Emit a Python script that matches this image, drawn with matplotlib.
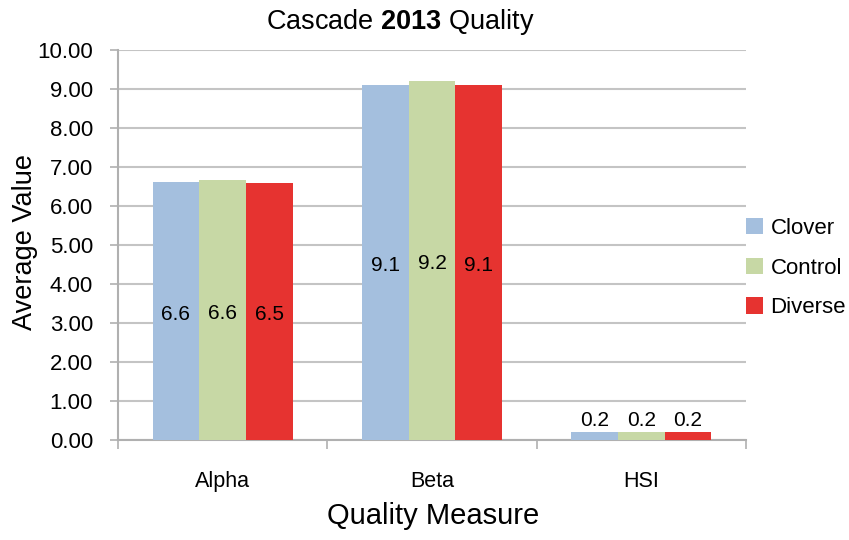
import numpy as np
import matplotlib.pyplot as plt

# chart data
categories = ["Alpha", "Beta", "HSI"]
series = ["Clover", "Control", "Diverse"]
clover = [6.62, 9.10, 0.21]
control = [6.67, 9.20, 0.21]
diverse = [6.58, 9.10, 0.21]
clover_labels = ["6.6", "9.1", "0.2"]
control_labels = ["6.6", "9.2", "0.2"]
diverse_labels = ["6.5", "9.1", "0.2"]
colors = ["#a4bfde", "#c7d8a5", "#e63330"]

plt.rcParams['font.family'] = ['Liberation Sans', 'DejaVu Sans']
plt.rcParams['mathtext.fontset'] = 'custom'
plt.rcParams['mathtext.rm'] = 'Liberation Sans'
plt.rcParams['mathtext.bf'] = 'Liberation Sans:bold'

fig = plt.figure(figsize=(8.49, 5.40), dpi=100)
ax = fig.add_axes([118 / 849, 1 - 440 / 540, (746 - 118) / 849, 390 / 540])

x = np.arange(len(categories))
width = 0.223
values = [clover, control, diverse]
labels = [clover_labels, control_labels, diverse_labels]

for i, (vals, labs) in enumerate(zip(values, labels)):
    pos = x + (i - 1) * width
    ax.bar(pos, vals, width, color=colors[i], label=series[i], zorder=3)
    for p, v, t in zip(pos, vals, labs):
        if v > 1:
            # excel puts these a touch below the bar middle
            ax.text(p, v / 2 - 0.08, t, ha="center", va="center", fontsize=15, zorder=4)
        else:
            ax.text(p, v + 0.05, t, ha="center", va="bottom", fontsize=15, zorder=4)

ax.set_xlim(-0.5, 2.5)
ax.set_ylim(0, 10)
ax.set_yticks(np.arange(0, 11, 1))
ax.set_yticklabels([f"{v:.2f}" for v in np.arange(0, 11, 1)], fontsize=16)
ax.yaxis.grid(True, color="#c4c4c4", lw=1.5, zorder=0)

ax.set_xticks(x)
ax.set_xticklabels(categories, fontsize=15.5)
ax.set_xticks([-0.5, 0.5, 1.5, 2.5], minor=True)
ax.tick_params(axis="x", which="major", length=0, pad=22)
ax.tick_params(axis="x", which="minor", length=6.5, color="#b0b0b0", width=1.2, direction="out")
ax.tick_params(axis="y", length=6, color="#b0b0b0", width=1.2, pad=12)

for s in ["top", "right"]:
    ax.spines[s].set_visible(False)
for s in ["left", "bottom"]:
    ax.spines[s].set_color("#b0b0b0")
    ax.spines[s].set_linewidth(1.5)

fig.text(400 / 849, 1 - 22 / 540, "Cascade $\\mathbf{2013}$ Quality", ha="center", va="center", fontsize=19.5)
fig.text(433 / 849, 1 - 516 / 540, "Quality Measure", ha="center", va="center", fontsize=21)
fig.text(25 / 849, 1 - 242 / 540, "Average Value", ha="center", va="center",
         rotation=90, fontsize=19.5)

fig.legend(loc="center left", bbox_to_anchor=(746 / 849, 1 - 268 / 540), frameon=False,
           fontsize=16, handlelength=0.75, handleheight=0.75, handletextpad=0.35,
           labelspacing=0.85, borderaxespad=0, borderpad=0)

fig.savefig("out.png", dpi=100)
